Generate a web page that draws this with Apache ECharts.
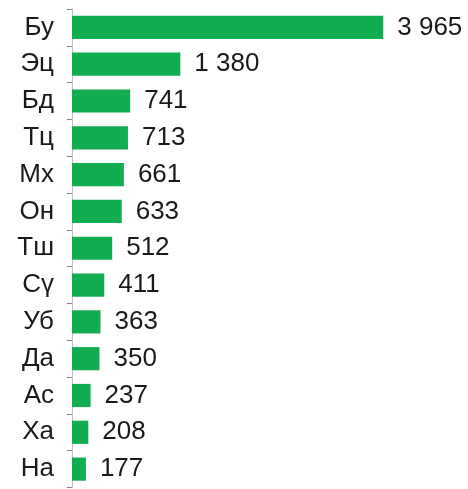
<!DOCTYPE html>
<html>
<head>
<meta charset="utf-8">
<script src="https://cdn.jsdelivr.net/npm/echarts@6/dist/echarts.min.js"></script>
<style>
  html, body { margin: 0; padding: 0; background: #fff; }
  #chart { width: 468px; height: 489px; }
</style>
</head>
<body>
<div id="chart"></div>
<script>
// categories top to bottom
const categories = ['Бу', 'Эц', 'Бд', 'Тц', 'Мх', 'Он', 'Тш', 'Сү', 'Уб', 'Да', 'Ас', 'Ха', 'На'];
const values = [3965, 1380, 741, 713, 661, 633, 512, 411, 363, 350, 237, 208, 177];

const fmt = v => String(v).replace(/\B(?=(\d{3})+(?!\d))/g, ' ');

const myChart = echarts.init(document.getElementById('chart'));

myChart.setOption({
  animation: false,
  grid: { left: 72, right: 82, top: 9, bottom: 1.5 },
  xAxis: {
    type: 'value',
    min: 0,
    max: 4000,
    show: false,
  },
  yAxis: {
    type: 'category',
    inverse: true,
    data: categories,
    axisLine: { show: true, lineStyle: { color: '#bfbfbf', width: 1 } },
    axisTick: { show: true, length: 5, lineStyle: { color: '#808080' } },
    axisLabel: {
      margin: 18,
      fontFamily: 'Liberation Sans, Arial, sans-serif',
      fontSize: 26,
      color: '#1a1a1a',
    },
  },
  series: [
    {
      type: 'bar',
      data: values,
      barCategoryGap: '37%',
      itemStyle: { color: '#12AD4F' },
      label: {
        show: true,
        position: 'right',
        distance: 14,
        formatter: p => fmt(p.value),
        fontFamily: 'Liberation Sans, Arial, sans-serif',
        fontSize: 26,
        color: '#1a1a1a',
      },
    },
  ],
});

window.addEventListener('resize', () => {
  myChart.resize();
});
</script>
</body>
</html>
